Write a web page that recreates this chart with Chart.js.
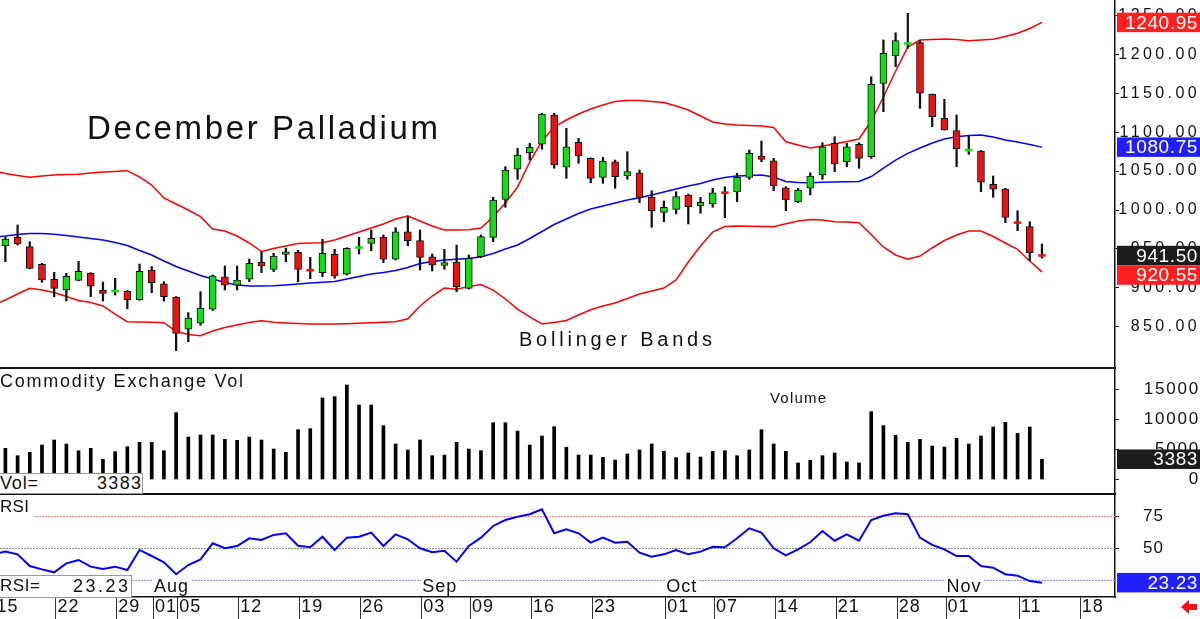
<!DOCTYPE html>
<html>
<head>
<meta charset="utf-8">
<title>December Palladium</title>
<script src="https://cdn.jsdelivr.net/npm/chart.js@4.4.1/dist/chart.umd.min.js"></script>
<style>
  html, body { margin:0; padding:0; background:#fff; }
  #wrap { position:relative; width:1200px; height:619px; overflow:hidden; background:#fff; }
  #wrap canvas { position:absolute; left:0; }
  .txt { position:absolute; white-space:nowrap; font-family:"Liberation Sans", Arial, sans-serif; color:#111; line-height:1; }
  .sep { position:absolute; left:0; width:1116px; height:2px; background:#111; }
  .box { position:absolute; background:#fff; border:1px solid #9a9a9a; box-sizing:border-box; }
</style>
</head>
<body>
<div id="wrap">
  <canvas id="cPrice" width="1200" height="367" style="top:0"></canvas>
  <div class="sep" style="top:367px"></div>
  <canvas id="cVol" width="1200" height="124" style="top:369px"></canvas>
  <div class="sep" style="top:493px"></div>
  <canvas id="cRsi" width="1200" height="124" style="top:495px"></canvas>
</div>
<script>
const FONT = '"Liberation Sans", Arial, sans-serif';

// ---- trading days (2024) ----
const dates = [
 '07-15','07-16','07-17','07-18','07-19','07-22','07-23','07-24','07-25','07-26','07-29','07-30','07-31',
 '08-01','08-02','08-05','08-06','08-07','08-08','08-09','08-12','08-13','08-14','08-15','08-16',
 '08-19','08-20','08-21','08-22','08-23','08-26','08-27','08-28','08-29','08-30',
 '09-03','09-04','09-05','09-06','09-09','09-10','09-11','09-12','09-13','09-16','09-17','09-18','09-19','09-20',
 '09-23','09-24','09-25','09-26','09-27','09-30',
 '10-01','10-02','10-03','10-04','10-07','10-08','10-09','10-10','10-11','10-14','10-15','10-16','10-17','10-18',
 '10-21','10-22','10-23','10-24','10-25','10-28','10-29','10-30','10-31',
 '11-01','11-04','11-05','11-06','11-07','11-08','11-11','11-12','11-13'
];

// ---- OHLC ----
const open = [null,954.1,964.9,952.9,930.2,911.0,897.6,909.7,918.7,897.2,895.8,896.0,884.8,922.9,905.3,887.9,846.8,854.5,872.5,914.3,903.3,911.0,932.8,923.8,943.1,945.7,922.8,919.5,943.1,917.7,951.7,957.0,964.9,937.0,972.1,960.6,940.0,928.7,933.2,899.4,940.0,964.9,1013.7,1052.3,1073.6,1084.4,1122.0,1054.9,1087.0,1066.4,1042.0,1062.0,1043.7,1047.9,1016.3,997.0,1000.9,1019.3,1005.5,1007.7,1022.4,1023.1,1042.0,1069.4,1063.3,1028.6,1010.7,1027.9,1045.0,1085.7,1062.0,1084.4,1068.5,1162.7,1197.8,1213.8,1214.9,1148.6,1117.8,1101.9,1076.9,1075.8,1033.0,1027.0,983.9,978.6,941.7];
const high = [null,965.3,980.7,959.3,931.5,920.0,918.7,934.1,919.5,907.5,912.3,896.5,930.6,927.2,907.9,889.0,868.1,895.1,916.5,928.1,928.1,937.0,946.4,944.4,950.8,948.2,939.2,962.4,949.5,951.6,964.9,974.3,967.9,977.3,992.3,974.3,943.5,949.5,955.0,942.2,968.0,1016.3,1055.6,1079.3,1085.7,1124.2,1124.2,1104.9,1092.1,1067.0,1067.7,1064.2,1074.9,1051.4,1024.8,1011.6,1023.5,1020.6,1016.3,1027.9,1029.9,1047.1,1077.1,1088.6,1066.4,1029.9,1027.9,1047.9,1086.4,1094.2,1085.7,1086.4,1171.2,1218.4,1227.7,1252.7,1217.5,1149.0,1142.2,1122.0,1095.0,1076.5,1043.7,1028.0,999.1,985.0,956.3];
const low = [null,933.6,955.0,924.5,907.1,888.6,883.1,909.0,888.6,883.1,890.8,873.2,884.0,893.8,883.1,819.3,830.8,852.0,871.0,897.2,897.2,907.9,919.5,920.8,933.6,907.9,911.8,914.3,912.3,916.5,943.5,947.7,932.3,935.8,954.1,922.9,921.6,923.8,895.0,898.5,939.0,959.3,1003.5,1039.4,1064.2,1078.0,1053.6,1040.7,1060.0,1035.1,1034.3,1027.9,1039.4,1009.4,977.8,985.0,994.9,982.0,995.8,1003.5,990.1,1010.7,1039.4,1062.0,1024.8,999.1,1009.4,1019.3,1039.4,1049.2,1055.6,1053.6,1066.4,1126.3,1184.1,1207.7,1130.6,1107.0,1102.5,1055.6,1071.5,1023.5,1016.3,983.7,973.4,934.9,938.0];
const close = [null,962.7,956.3,925.1,910.1,899.4,914.8,921.3,902.0,893.0,896.0,884.4,921.3,906.6,888.6,841.6,861.3,874.1,915.6,903.3,910.1,931.5,928.1,940.9,946.4,923.8,922.6,944.4,915.2,950.8,951.9,963.6,936.7,972.1,960.6,939.2,929.4,932.3,901.5,938.0,965.7,1012.8,1051.4,1070.6,1080.5,1123.3,1057.8,1081.3,1069.8,1040.7,1062.9,1042.8,1049.2,1016.3,999.1,1003.5,1017.1,1004.2,1009.9,1022.2,1022.2,1042.0,1072.8,1065.1,1031.2,1012.8,1025.7,1043.7,1081.3,1059.1,1081.3,1066.4,1161.4,1201.3,1217.5,1214.0,1150.0,1119.9,1102.8,1078.7,1077.1,1035.6,1026.6,990.6,983.7,945.2,941.5];

// ---- Bollinger bands ----
const bbUpper = [1050.1,1046.9,1044.3,1042.0,1043.7,1045.0,1045.6,1045.9,1047.5,1048.8,1049.5,1050.5,1042.4,1032.1,1015.4,1007.7,1000.0,991.4,975.6,973.0,966.6,957.6,946.7,950.5,953.8,957.0,957.6,958.0,961.5,966.6,971.7,976.9,982.0,988.4,992.3,985.9,979.4,974.3,974.3,974.6,976.9,991.4,1009.0,1029.5,1061.7,1088.6,1106.6,1115.6,1123.3,1129.7,1134.9,1139.4,1140.7,1140.7,1139.4,1138.1,1133.6,1128.5,1120.7,1113.0,1110.5,1109.2,1108.5,1107.9,1106.0,1087.7,1083.5,1079.6,1082.2,1084.8,1088.0,1091.2,1114.3,1145.1,1178.5,1209.4,1218.4,1219.0,1219.6,1219.0,1217.5,1218.4,1219.3,1222.9,1227.0,1233.1,1240.95];
const bbMiddle = [965.3,966.6,968.5,969.8,969.8,968.8,967.2,965.3,963.4,961.5,958.3,954.4,948.0,942.2,934.5,927.4,921.6,915.9,911.4,906.9,903.7,902.4,902.4,902.8,903.7,904.9,906.2,907.1,908.2,911.4,914.6,917.8,919.7,922.3,926.1,931.3,933.8,935.8,936.7,937.8,939.9,944.1,949.9,955.0,963.4,972.4,981.4,988.4,995.5,1001.3,1005.1,1009.0,1012.8,1015.8,1019.3,1023.1,1027.0,1030.8,1034.0,1038.5,1041.7,1043.7,1044.3,1045.0,1042.4,1036.6,1035.3,1035.1,1035.6,1036.0,1036.4,1036.6,1043.0,1053.9,1064.2,1072.8,1079.6,1086.1,1091.2,1094.2,1095.7,1096.3,1093.8,1089.9,1087.3,1084.1,1080.75];
const bbLower = [878.0,884.4,892.1,899.4,897.2,894.0,888.9,883.8,881.2,876.7,866.4,856.5,856.1,855.7,855.2,844.2,840.1,838.5,844.6,849.1,852.3,855.5,857.8,855.7,854.9,854.1,853.6,853.6,853.6,853.9,854.5,855.1,855.7,856.5,860.2,876.7,889.5,899.8,898.1,901.7,904.3,897.2,885.7,872.8,862.6,853.6,855.5,858.1,865.1,871.9,876.7,880.5,886.3,892.1,896.0,899.8,910.1,933.2,953.8,971.7,978.8,979.4,979.2,978.9,978.5,982.3,985.9,987.8,987.2,984.8,984.6,983.7,968.5,952.5,942.2,936.7,940.9,951.2,960.8,967.9,973.0,973.0,966.0,957.6,949.5,934.5,920.55];

// ---- Volume ----
const volume = [null,5200,3970,4530,5750,6580,5920,4800,5200,3360,4640,5470,6190,6190,4800,11140,7080,7420,7420,6700,6530,7080,6580,5080,4530,8300,8470,13580,13800,15750,12420,12420,8970,5920,4920,6580,3970,4080,6190,5080,4800,9470,9470,8080,5750,7250,8800,5360,4080,4080,3700,3250,4250,4920,5920,4690,3640,4420,3750,4690,4800,3970,4920,8300,5920,4690,2750,3190,3970,4420,2920,2750,11300,8970,7360,6190,6700,5580,5420,6860,5920,7250,8750,9530,7700,8750,3383];

// ---- RSI ----
const rsi = [45.6,47.4,45.3,36.2,33.6,31.3,38.3,40.9,35.7,33.9,35.7,33.1,48.7,44.0,39.1,29.8,37.0,41.4,53.9,50.0,51.8,57.8,56.5,60.4,61.7,52.0,50.8,59.0,48.7,58.3,59.0,62.2,51.8,60.9,57.0,50.0,46.9,48.1,39.6,51.8,58.3,67.4,72.0,74.6,76.5,80.4,61.7,64.8,61.7,54.4,58.3,54.4,55.1,46.6,43.5,45.3,48.7,45.3,47.4,51.2,50.8,57.8,65.6,62.2,50.0,44.5,49.2,54.7,63.5,55.9,60.9,55.9,72.0,75.4,77.3,76.5,58.3,52.6,49.2,44.0,44.0,36.2,34.9,29.8,28.7,24.5,23.23];
const rsiLevels = [75, 50, 25];

// ---- axes ----
const priceTicks = [850, 900, 950, 1000, 1050, 1100, 1150, 1200, 1250];
const volTicks = [0, 5000, 10000, 15000];
const rsiTicks = [50, 75];
const tickPos = [0,5,10,13,15,20,25,30,35,39,44,49,55,59,64,69,74,78,84,89];
const tickLabels = ['15','22','29','01','05','12','19','26','03','09','16','23','01','07','14','21','28','01','11','18'];
const monthPos = [13, 35, 55, 78];
const monthLabels = ['Aug', 'Sep', 'Oct', 'Nov'];

const X_MIN = 0.558, X_MAX = 91.99;
const PRICE_MIN = 798.33, PRICE_MAX = 1269.75;
const VOL_MIN = -2250, VOL_MAX = 18417;
const RSI_MIN = 12.07, RSI_MAX = 91.51;

const GREEN = '#14dc14', RED = '#e81414', INK = '#111';

Chart.defaults.font.family = FONT;
Chart.defaults.color = INK;

const pts = arr => arr.map((v, i) => v == null ? null : {x: i, y: v}).filter(p => p);
const last = arr => arr[arr.length - 1];

// candle datasets
const bodyData = [], bodyBg = [], bodyBorder = [], bodyBW = [], wickData = [];
for (let i = 0; i < close.length; i++) {
  if (open[i] == null) continue;
  const up = close[i] >= open[i];
  const col = up ? GREEN : RED;
  let lo = Math.min(open[i], close[i]), hi = Math.max(open[i], close[i]);
  const doji = hi - lo < 1;
  if (doji) { const m = (lo + hi) / 2; lo = m - 1.2; hi = m + 1.2; }
  bodyData.push({x: i, y: [lo, hi]});
  bodyBg.push(col);
  bodyBorder.push(doji ? col : INK);
  bodyBW.push(doji ? 0 : 1);
  wickData.push({x: i, y: [low[i], high[i]]});
}

const hiddenX = {type: 'linear', min: X_MIN, max: X_MAX, offset: false, display: false};

function yAxis(min, max, ticks, fmt, size, crossAlign, pad) {
  return {
    type: 'linear', position: 'right', min, max,
    afterBuildTicks: s => { s.ticks = ticks.map(v => ({value: v})); },
    afterFit: s => { s.width = 85; s.paddingTop = 0; s.paddingBottom = 0; s.paddingLeft = 0; s.paddingRight = 0; },
    ticks: {callback: fmt, font: {family: FONT, size}, color: INK, crossAlign, padding: pad, autoSkip: false},
    grid: {display: true, drawOnChartArea: false, drawTicks: true, tickLength: 4, color: INK, lineWidth: 1},
    border: {display: true, color: INK, width: 1.5}
  };
}

function spacing(ls) { return {id: 'ls', beforeDraw(chart) { chart.ctx.letterSpacing = ls; }}; }

function valueBoxes(items) {
  return {
    id: 'vbox',
    afterDraw(chart) {
      const ys = chart.scales.y, ctx = chart.ctx, H = 19.5;
      const left = chart.chartArea.right + 2, right = chart.width;
      const arr = items.map(it => ({...it, py: ys.getPixelForValue(it.v)})).sort((a, b) => a.py - b.py);
      let prevBottom = -1e9;
      ctx.save();
      ctx.letterSpacing = '0.6px';
      ctx.font = '19px ' + FONT;
      ctx.textAlign = 'right';
      ctx.textBaseline = 'middle';
      for (const b of arr) {
        let top = b.py - H / 2;
        if (top < prevBottom) top = prevBottom;
        prevBottom = top + H;
        ctx.fillStyle = b.bg;
        ctx.fillRect(left, top, right - left, H);
        ctx.fillStyle = '#fff';
        ctx.fillText(b.text, right - 2, top + H / 2 + 1);
      }
      ctx.restore();
    }
  };
}

const baseOpts = {
  responsive: false, animation: false, events: [], devicePixelRatio: 1,
  layout: {padding: 0},
  plugins: {legend: {display: false}, tooltip: {enabled: false}}
};

// ---- Price chart ----
new Chart(document.getElementById('cPrice'), {
  type: 'bar',
  data: {datasets: [
    {label: 'body', data: bodyData, backgroundColor: bodyBg, borderColor: bodyBorder, borderWidth: bodyBW, barThickness: 7, grouped: false, borderSkipped: false},
    {label: 'wick', data: wickData, backgroundColor: INK, borderWidth: 0, barThickness: 1.6, grouped: false, borderSkipped: false},
    {type: 'line', label: 'upper', data: pts(bbUpper), borderColor: '#ff0000', borderWidth: 1.5, pointRadius: 0, tension: 0},
    {type: 'line', label: 'middle', data: pts(bbMiddle), borderColor: '#0000ff', borderWidth: 1.5, pointRadius: 0, tension: 0},
    {type: 'line', label: 'lower', data: pts(bbLower), borderColor: '#ff0000', borderWidth: 1.5, pointRadius: 0, tension: 0}
  ]},
  options: {...baseOpts, scales: {
    x: hiddenX,
    y: yAxis(PRICE_MIN, PRICE_MAX, priceTicks, v => v.toFixed(2), 16, 'far', 3)
  }},
  plugins: [spacing('3.4px'), valueBoxes([
    {v: last(bbUpper), bg: '#ff2020', text: last(bbUpper).toFixed(2)},
    {v: last(bbMiddle), bg: '#2020ff', text: last(bbMiddle).toFixed(2)},
    {v: last(close), bg: '#1c1c1c', text: last(close).toFixed(2)},
    {v: last(bbLower), bg: '#ff2020', text: last(bbLower).toFixed(2)}
  ])]
});

// ---- Volume chart ----
new Chart(document.getElementById('cVol'), {
  type: 'bar',
  data: {datasets: [
    {label: 'volume', data: pts(volume), backgroundColor: '#000', borderWidth: 0, barThickness: 3, grouped: false}
  ]},
  options: {...baseOpts, scales: {
    x: hiddenX,
    y: yAxis(VOL_MIN, VOL_MAX, volTicks, v => String(v), 17, 'far', 3)
  }},
  plugins: [spacing('1.8px'), valueBoxes([
    {v: last(volume), bg: '#1c1c1c', text: String(last(volume))}
  ])]
});

// ---- RSI chart ----
const rsiDecor = {
  id: 'rsiDecor',
  beforeDatasetsDraw(chart) {
    const ctx = chart.ctx, ys = chart.scales.y, a = chart.chartArea;
    const cols = ['#ff8c8c', '#8c8c8c', '#8c8cff'];
    ctx.save();
    ctx.lineWidth = 1;
    ctx.setLineDash([2, 1]);
    rsiLevels.forEach((lv, i) => {
      const y = Math.round(ys.getPixelForValue(lv)) + 0.5;
      ctx.strokeStyle = cols[i];
      ctx.beginPath(); ctx.moveTo(a.left, y); ctx.lineTo(a.right, y); ctx.stroke();
    });
    ctx.restore();
  },
  afterDraw(chart) {
    const ctx = chart.ctx, xs = chart.scales.x, a = chart.chartArea;
    ctx.save();
    // week tick lines in the date row
    ctx.strokeStyle = '#333'; ctx.lineWidth = 1;
    xs.ticks.forEach(t => {
      const px = Math.round(xs.getPixelForValue(t.value)) + 0.5;
      ctx.beginPath(); ctx.moveTo(px, a.bottom); ctx.lineTo(px, chart.height); ctx.stroke();
    });
    // month labels
    ctx.font = '18px ' + FONT;
    ctx.textBaseline = 'middle'; ctx.textAlign = 'left';
    monthPos.forEach((p, i) => {
      const px = xs.getPixelForValue(p + 0.1) + 1;
      const w = ctx.measureText(monthLabels[i]).width;
      const cy = a.bottom - 10.5;
      ctx.fillStyle = '#fff'; ctx.fillRect(px - 1, cy - 9, w + 3, 18);
      ctx.fillStyle = INK; ctx.fillText(monthLabels[i], px, cy + 1);
    });
    // red marker arrow
    ctx.fillStyle = '#ee1111';
    ctx.beginPath();
    ctx.moveTo(1181, 112); ctx.lineTo(1189, 105); ctx.lineTo(1189, 109); ctx.lineTo(1197, 109);
    ctx.lineTo(1197, 115); ctx.lineTo(1189, 115); ctx.lineTo(1189, 119); ctx.closePath(); ctx.fill();
    ctx.restore();
  }
};

new Chart(document.getElementById('cRsi'), {
  type: 'line',
  data: {datasets: [
    {label: 'RSI', data: pts(rsi), borderColor: '#0000ff', borderWidth: 2, pointRadius: 0, tension: 0}
  ]},
  options: {...baseOpts, scales: {
    x: {
      type: 'linear', position: 'bottom', min: X_MIN, max: X_MAX, offset: false,
      afterBuildTicks: s => { s.ticks = tickPos.map(p => ({value: p + 0.1})); },
      afterFit: s => { s.height = 22; s.paddingLeft = 0; s.paddingRight = 0; },
      ticks: {callback: (v, i) => tickLabels[i], font: {family: FONT, size: 18, lineHeight: 1}, color: INK,
              align: 'start', labelOffset: 2, padding: 1, maxRotation: 0, minRotation: 0, autoSkip: false},
      grid: {display: false, drawTicks: false},
      border: {display: true, color: INK, width: 1.5}
    },
    y: yAxis(RSI_MIN, RSI_MAX, rsiTicks, v => String(v), 17, 'near', 24)
  }},
  plugins: [spacing('1px'), rsiDecor, valueBoxes([
    {v: last(rsi), bg: '#2020ff', text: last(rsi).toFixed(2)}
  ])]
});

// ---- text annotations ----
const wrap = document.getElementById('wrap');
const mctx = document.createElement('canvas').getContext('2d');
function label(text, x, cy, size, width, opts = {}) {
  mctx.font = size + 'px ' + FONT;
  const nat = mctx.measureText(text).width;
  const ls = text.length > 1 ? Math.max(0, (width - nat) / (text.length - 1)) : 0;
  const d = document.createElement('div');
  d.className = 'txt';
  d.textContent = text;
  d.style.fontSize = size + 'px';
  d.style.letterSpacing = ls.toFixed(2) + 'px';
  d.style.left = (opts.right ? x - width : x) + 'px';
  d.style.top = (cy - size * 0.52) + 'px';
  if (opts.bg) { d.style.background = opts.bg; d.style.paddingRight = '5px'; d.style.paddingBottom = '3px'; }
  wrap.appendChild(d);
  return d;
}
function box(left, top, w, h) {
  const d = document.createElement('div');
  d.className = 'box';
  Object.assign(d.style, {left: left + 'px', top: top + 'px', width: w + 'px', height: h + 'px'});
  wrap.appendChild(d);
}

label('December Palladium', 87, 128, 33, 351);
label('Bollinger Bands', 519, 339, 20, 193);
label('Commodity Exchange Vol', 0, 381.5, 18, 243);
label('Volume', 770, 397.5, 15, 56);
label('RSI', 0, 507, 17, 29, {bg: '#fff'});
box(-1, 473, 144, 21);
label('Vol=', 0, 483.5, 18, 38);
label(String(last(volume)), 141, 483.5, 18, 44, {right: true});
box(-1, 575, 133, 23);
label('RSI=', 0, 586, 17, 40);
label(last(rsi).toFixed(2), 128, 586, 18, 55, {right: true});
</script>
</body>
</html>
